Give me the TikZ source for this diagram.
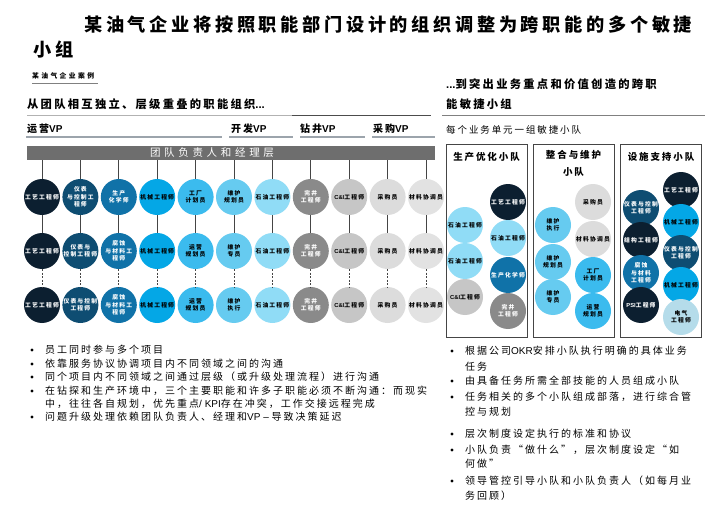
\documentclass[tikz,border=0pt]{standalone}
\usepackage{fontspec}
\setmainfont{Noto Sans CJK SC}
\newfontfamily\cjksp[LetterSpace=20]{Noto Sans CJK SC}
\newfontfamily\cjkwide[LetterSpace=35]{Noto Sans CJK SC}
\newfontfamily\latfont{Liberation Sans}
\newcommand\lat[1]{{\latfont #1}}
\newcommand\circfont{\cjksp\bfseries\fontsize{5.8}{7.3}\selectfont}
\newcommand\bulfont{\cjksp\fontsize{10}{13}\selectfont}
\definecolor{cA}{HTML}{0C1F30}
\definecolor{cB}{HTML}{0E4D72}
\definecolor{cC}{HTML}{1072A8}
\definecolor{cD}{HTML}{04A7E6}
\definecolor{cE}{HTML}{3BBBEE}
\definecolor{cF}{HTML}{66CBF0}
\definecolor{cG}{HTML}{90DCF6}
\definecolor{cH}{HTML}{8A8A8A}
\definecolor{cI}{HTML}{C6C6C6}
\definecolor{cJ}{HTML}{DCDCDC}
\definecolor{cK}{HTML}{E2E2E2}
\definecolor{cL}{HTML}{B5DCEA}
\definecolor{barg}{HTML}{6E6E6E}
\definecolor{lineg}{HTML}{9CA4AC}
\definecolor{connc}{HTML}{454545}
\begin{document}
\begin{tikzpicture}[x=1pt,y=-1pt,
  every node/.style={inner sep=0pt},
  circ/.style={circle, minimum size=36pt, align=center, font=\circfont},
  sA/.style={circ, fill=cA, text=white},
  sB/.style={circ, fill=cB, text=white},
  sC/.style={circ, fill=cC, text=white},
  sD/.style={circ, fill=cD, text=black},
  sE/.style={circ, fill=cE, text=black},
  sF/.style={circ, fill=cF, text=black},
  sG/.style={circ, fill=cG, text=black},
  sH/.style={circ, fill=cH, text=white},
  sI/.style={circ, fill=cI, text=black},
  sJ/.style={circ, fill=cJ, text=black},
  sK/.style={circ, fill=cK, text=black},
  sL/.style={circ, fill=cL, text=black},
  conn/.style={draw=connc, line width=0.7pt},
  vpline/.style={draw=lineg, line width=1.8pt},
  vplabel/.style={anchor=west, font=\cjksp\bfseries\fontsize{10}{12}\selectfont},
  hdtext/.style={anchor=west, font=\cjksp\bfseries\fontsize{11.3}{20}\selectfont},
  teambox/.style={draw=connc, line width=0.8pt, minimum width=81pt, minimum height=193pt, anchor=north west},
  boxhdr/.style={font=\cjksp\bfseries\fontsize{9.5}{17}\selectfont, align=center},
  bul/.style={anchor=north west, align=left, font=\bulfont},
  dotc/.style={fill=black}
]
\useasboundingbox (0,0) rectangle (705,511);
\fill[white] (0,0) rectangle (705,511);

% titles
\node[anchor=west, font=\cjksp\bfseries\fontsize{18.2}{22}\selectfont] (title1) at (84,25) {某油气企业将按照职能部门设计的组织调整为跨职能的多个敏捷};
\node[anchor=west, font=\cjksp\bfseries\fontsize{18.2}{22}\selectfont] (title2) at (33,50) {小组};
\node[anchor=west, font=\cjkwide\bfseries\fontsize{6.8}{8}\selectfont] (case) at (32,76) {某油气企业案例};
\draw[draw=gray, line width=0.6pt] (32,83) -- (98,83);

\node[hdtext] (lefthd) at (27,104) {从团队相互独立、层级重叠的职能组织\lat{...}};
\node[hdtext, anchor=north west, align=left] (righthd) at (446,78.5) {\lat{...}到突出业务重点和价值创造的跨职\\能敏捷小组};

\draw[draw=black!30, line width=1.5pt] (27,115.5) -- (292,115.5);
\draw[draw=black!70, line width=1.5pt] (292,115.5) -- (431,115.5);
\draw[draw=black!50, line width=1.5pt] (442,115.5) -- (705,115.5);

% VP labels
\node[vplabel] (vp1) at (27,129) {运营\lat{VP}};
\node[vplabel] (vp2) at (231,129) {开发\lat{VP}};
\node[vplabel] (vp3) at (300,129) {钻井\lat{VP}};
\node[vplabel] (vp4) at (373,129) {采购\lat{VP}};
\draw[vpline] (26,137) -- (222,137);
\draw[vpline] (229,137) -- (293,137);
\draw[vpline] (300,137) -- (365,137);
\draw[vpline] (372,137) -- (435,137);
\node[anchor=west, font=\cjksp\fontsize{9.5}{12}\selectfont] (each) at (446,130) {每个业务单元一组敏捷小队};

% bar
\node[fill=barg, minimum width=408pt, minimum height=14pt, anchor=north west] (bar) at (27,146) {};
\node[text=white, font=\cjkwide\fontsize{10.5}{12}\selectfont] (bartext) at (212,153) {团队负责人和经理层};

% grid of circles
\foreach \i/\s/\ta/\tb/\tc in {
  1/sA/{工艺工程师}/{工艺工程师}/{工艺工程师},
  2/sB/{仪表\\与控制工\\程师}/{仪表与\\控制工程师}/{仪表与控制\\工程师},
  3/sC/{生产\\化学师}/{腐蚀\\与材料工\\程师}/{腐蚀\\与材料工\\程师},
  4/sD/{机械工程师}/{机械工程师}/{机械工程师},
  5/sE/{工厂\\计划员}/{运营\\规划员}/{运营\\规划员},
  6/sF/{维护\\规划员}/{维护\\专员}/{维护\\执行},
  7/sG/{石油工程师}/{石油工程师}/{石油工程师},
  8/sH/{完井\\工程师}/{完井\\工程师}/{完井\\工程师},
  9/sI/{\lat{C\&I}工程师}/{\lat{C\&I}工程师}/{\lat{C\&I}工程师},
  10/sJ/{采购员}/{采购员}/{采购员},
  11/sK/{材料协调员}/{材料协调员}/{材料协调员}}{
  \node[\s] (r1c\i) at ({42+(\i-1)*38.4},197) {\ta};
  \node[\s] (r2c\i) at ({42+(\i-1)*38.4},251) {\tb};
  \node[\s] (r3c\i) at ({42+(\i-1)*38.4},305) {\tc};
  \draw[conn] (r1c\i.north |- bar.south) -- (r1c\i.north);
  \draw[conn] (r1c\i.south) -- (r2c\i.north);
  \draw[conn, dash pattern=on 2pt off 1.5pt] (r2c\i.south) -- (r3c\i.north);
}

% right panel boxes
\node[teambox] (box1) at (446,144) {};
\node[teambox] (box2) at (533,144) {};
\node[teambox] (box3) at (620,144) {};
\node[boxhdr] (h1) at (486.5,157) {生产优化小队};
\node[boxhdr] (h2) at (573.5,163.5) {整合与维护\\小队};
\node[boxhdr] (h3) at (661,157) {设施支持小队};

% box 1
\node[sA] (p1) at (508,202) {工艺工程师};
\node[sG] (p2) at (465,225) {石油工程师};
\node[sG] (p3) at (508,238) {石油工程师};
\node[sG] (p4) at (465,261) {石油工程师};
\node[sC] (p5) at (508,275) {生产化学师};
\node[sI] (p6) at (465,297) {\lat{C\&I}工程师};
\node[sH] (p7) at (508,311) {完井\\工程师};
% box 2
\node[sJ] (q1) at (593,202) {采购员};
\node[sF] (q2) at (553,225) {维护\\执行};
\node[sJ] (q3) at (593,239) {材料协调员};
\node[sF] (q4) at (553,262) {维护\\规划员};
\node[sE] (q5) at (593,275) {工厂\\计划员};
\node[sF] (q6) at (553,297) {维护\\专员};
\node[sE] (q7) at (593,311) {运营\\规划员};
% box 3
\node[sA] (u1) at (681,190) {工艺工程师};
\node[sB] (u2) at (641,208) {仪表与控制\\工程师};
\node[sD] (u3) at (681,222) {机械工程师};
\node[sA] (u4) at (641,240) {结构工程师};
\node[sB] (u5) at (681,253) {仪表与控制\\工程师};
\node[sC] (u6) at (641,273) {腐蚀\\与材料\\工程师};
\node[sD] (u7) at (681,285) {机械工程师};
\node[sA] (u8) at (641,305) {\lat{PSI}工程师};
\node[sL] (u9) at (681,317) {电气\\工程师};

% left bullets
\foreach \y in {350,364,377,391,417} {\fill[dotc] (32,\y) circle (1.7);}
\node[bul] (lb1) at (45,345) {员工同时参与多个项目};
\node[bul] (lb2) at (45,359) {依靠服务协议协调项目内不同领域之间的沟通};
\node[bul] (lb3) at (45,372) {同个项目内不同领域之间通过层级（或升级处理流程）进行沟通};
\node[bul, font=\cjksp\fontsize{10}{12.5}\selectfont] (lb4) at (45,386) {在钻探和生产环境中，三个主要职能和许多子职能必须不断沟通：而现实\\中，往往各自规划，优先重点\lat{/ KPI}存在冲突，工作交接远程完成};
\node[bul] (lb5) at (45,412) {问题升级处理依赖团队负责人、经理和\lat{VP – }导致决策延迟};

% right bullets
\foreach \y in {351,381,397,434,450,481} {\fill[dotc] (452,\y) circle (1.7);}
\node[bul, font=\cjksp\fontsize{10}{15.5}\selectfont] (rb1) at (465,346) {根据公司\lat{OKR}安排小队执行明确的具体业务\\任务};
\node[bul] (rb2) at (465,376) {由具备任务所需全部技能的人员组成小队};
\node[bul, font=\cjksp\fontsize{10}{15}\selectfont] (rb3) at (465,392) {任务相关的多个小队组成部落，进行综合管\\控与规划};
\node[bul] (rb4) at (465,429) {层次制度设定执行的标准和协议};
\node[bul, font=\cjksp\fontsize{10}{14}\selectfont] (rb5) at (465,445) {小队负责“做什么”，层次制度设定“如\\何做”};
\node[bul, font=\cjksp\fontsize{10}{15}\selectfont] (rb6) at (465,476) {领导管控引导小队和小队负责人（如每月业\\务回顾）};
\end{tikzpicture}
\end{document}
